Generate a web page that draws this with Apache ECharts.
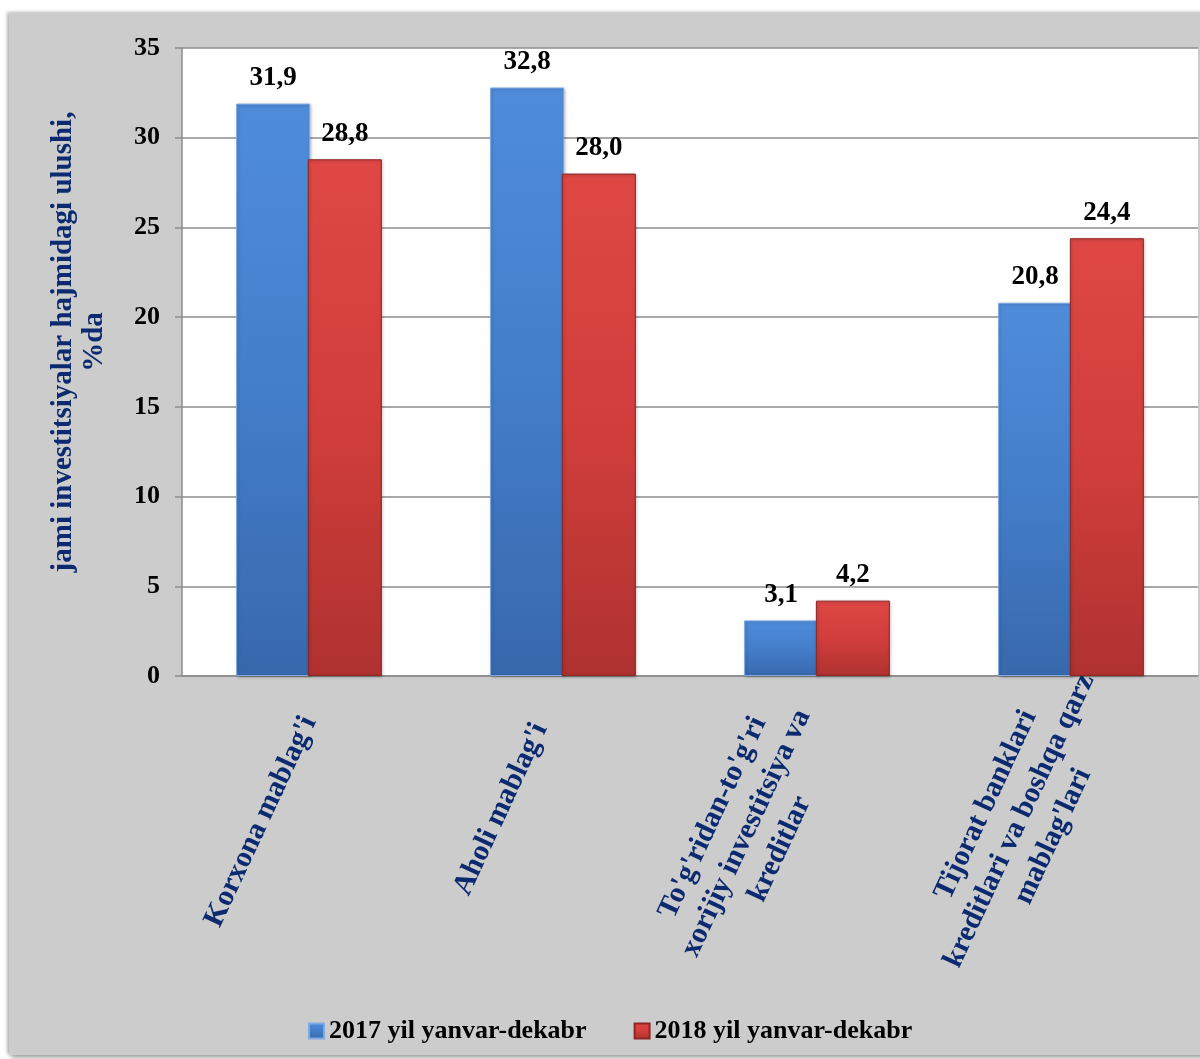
<!DOCTYPE html>
<html>
<head>
<meta charset="utf-8">
<script src="https://cdn.jsdelivr.net/npm/echarts@6/dist/echarts.min.js"></script>
<style>
  html, body { margin: 0; padding: 0; background: #ffffff; width: 1200px; height: 1059px; overflow: hidden; }
  #panel {
    position: absolute; left: 9px; top: 13px; width: 1200px; height: 1042px;
    background: #cccccc;
    box-shadow: -2px -1px 3px rgba(0,0,0,0.25), 2px 3px 5px rgba(0,0,0,0.35);
  }
  #chart { position: absolute; left: 0; top: 0; width: 1191px; height: 1042px; }
</style>
</head>
<body>
<div id="panel"><div id="chart"></div></div>
<script>
// ---- data ----
const categories = [
  "Korxona mablag'i",
  "Aholi mablag'i",
  "To'g'ridan-to'g'ri\nxorijiy investitsiya va\nkreditlar",
  "Tijorat banklari\nkreditlari va boshqa qarz\nmablag'lari"
];
const seriesNames = ["2017 yil yanvar-dekabr", "2018 yil yanvar-dekabr"];
const values2017 = [31.9, 32.8, 3.1, 20.8];
const values2018 = [28.8, 28.0, 4.2, 24.4];
const yTicks = { min: 0, max: 35, interval: 5 };
const yAxisTitle = "jami investitsiyalar hajmidagi ulushi,\n%da";

// ---- styling ----
const FONT = "'Times New Roman', 'Liberation Serif', serif";
const NAVY = '#0B2A6F';
const catPadding = [[36, 38, 0, 0], [0, 54, 0, 0], [5, 38, 0, 0], [29, -7, 0, 0]];

const blueGrad = new echarts.graphic.LinearGradient(0, 0, 0, 1, [
  { offset: 0, color: '#4F8CDA' }, { offset: 0.5, color: '#437ECA' }, { offset: 1, color: '#3868AC' }
]);
const redGrad = new echarts.graphic.LinearGradient(0, 0, 0, 1, [
  { offset: 0, color: '#DE4744' }, { offset: 0.5, color: '#D13E3B' }, { offset: 1, color: '#AF3230' }
]);

const chart = echarts.init(document.getElementById('chart'), null, { renderer: 'canvas' });

const labelFmt = p => p.value.toFixed(1).replace('.', ',');

chart.setOption({
  backgroundColor: 'transparent',
  animation: false,
  grid: {
    left: 173, right: 2, top: 35, bottom: 379,
    show: true, backgroundColor: '#ffffff', borderWidth: 0,
    containLabel: false, outerBoundsMode: 'none'
  },
  legend: {
    data: seriesNames,
    left: 294, top: 1000,
    icon: 'rect', itemWidth: 15, itemHeight: 15, itemGap: 47,
    textStyle: { fontFamily: FONT, fontWeight: 'bold', fontSize: 26, color: '#000' }
  },
  xAxis: {
    type: 'category',
    data: categories.map((c, i) => ({ value: c, textStyle: { padding: catPadding[i] } })),
    axisLine: { show: true, lineStyle: { color: '#8C8C8C', width: 1.5 } },
    axisTick: { show: false },
    axisLabel: {
      interval: 0, rotate: 65, margin: 0,
      formatter: v => v.split('\n').map(l => '{c|' + l + '}').join('\n'),
      rich: {
        c: { fontFamily: FONT, fontWeight: 'bold', fontSize: 29.5, color: NAVY, lineHeight: 37, align: 'center' }
      },
      fontFamily: FONT, fontWeight: 'bold', fontSize: 29.5, color: NAVY, lineHeight: 37
    }
  },
  yAxis: {
    type: 'value',
    min: yTicks.min, max: yTicks.max, interval: yTicks.interval,
    name: yAxisTitle,
    nameLocation: 'middle', nameGap: 72,
    nameTextStyle: { fontFamily: FONT, fontWeight: 'bold', fontSize: 29, color: NAVY, lineHeight: 31, align: 'center', padding: [0, 0, 0, 40] },
    axisLine: { show: true, lineStyle: { color: '#8C8C8C', width: 1.5 } },
    axisTick: { show: true, length: 7, lineStyle: { color: '#8C8C8C', width: 1.5 } },
    splitLine: { show: true, lineStyle: { color: '#8C8C8C', width: 1.5 } },
    axisLabel: { margin: 22, fontFamily: FONT, fontWeight: 'bold', fontSize: 26, color: '#000' }
  },
  series: [
    {
      name: seriesNames[0], type: 'bar', data: values2017,
      barWidth: 74, barGap: '-3%',
      itemStyle: { color: blueGrad, borderColor: '#7FA9E3', borderWidth: 1,
        shadowColor: 'rgba(0,0,0,0.25)', shadowBlur: 3, shadowOffsetX: 1, shadowOffsetY: 1 },
      label: { show: true, position: 'top', distance: 12, formatter: labelFmt,
        fontFamily: FONT, fontWeight: 'bold', fontSize: 27, color: '#000' }
    },
    {
      name: seriesNames[1], type: 'bar', data: values2018,
      barWidth: 74, barGap: '-3%',
      itemStyle: { color: redGrad, borderColor: '#8E2624', borderWidth: 1,
        shadowColor: 'rgba(0,0,0,0.25)', shadowBlur: 3, shadowOffsetX: 1, shadowOffsetY: 1 },
      label: { show: true, position: 'top', distance: 12, formatter: labelFmt,
        fontFamily: FONT, fontWeight: 'bold', fontSize: 27, color: '#000' }
    }
  ]
});
</script>
</body>
</html>
